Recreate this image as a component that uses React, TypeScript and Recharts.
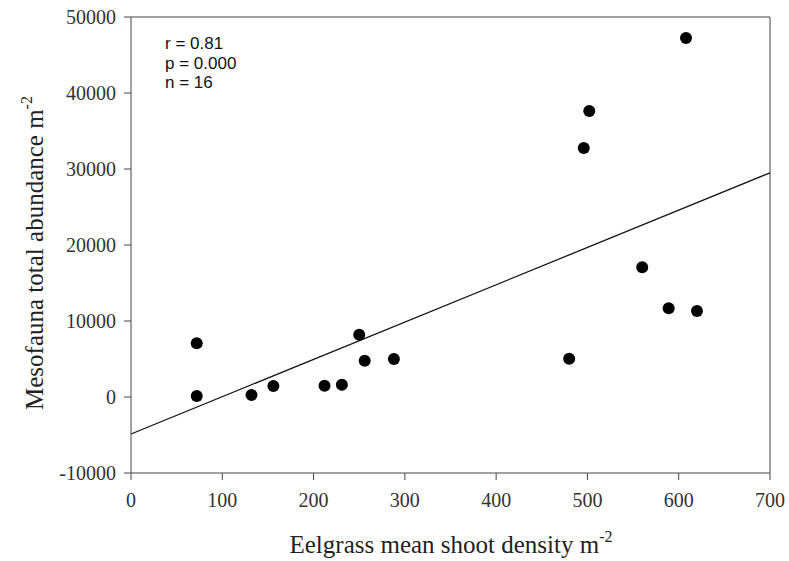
import React from 'react';
import { ScatterChart, Scatter, XAxis, YAxis, ReferenceLine, Customized } from 'recharts';

const shootDensity = [72, 72, 132, 156, 212, 231, 250, 256, 288, 480, 496, 502, 560, 589, 608, 620];
const abundance = [7070, 130, 260, 1450, 1490, 1620, 8200, 4780, 5000, 5040, 32760, 37630, 17060, 11670, 47240, 11320];
const xTicks = [0, 100, 200, 300, 400, 500, 600, 700];
const yTicks = [-10000, 0, 10000, 20000, 30000, 40000, 50000];
const fitStart = { x: 0, y: -4870 };
const fitEnd = { x: 700, y: 29500 };
const statsLines = ['r = 0.81', 'p = 0.000', 'n = 16'];

const points = shootDensity.map((x, i) => ({ x, y: abundance[i] }));

const serif = '"Liberation Serif", "Times New Roman", serif';
const sans = '"Liberation Sans", Arial, sans-serif';

const Dot = (props: any) => <circle cx={props.cx} cy={props.cy} r={6} fill="#000" />;

const renderXTick = (props: any) => {
  const { x, y, payload, index } = props;
  return (
    <g key={`xt-${index}`} transform={`translate(${x},${y})`}>
      <text x={0} y={0} dy={22} textAnchor="middle" fontFamily={serif} fontSize={20} fill="#333">
        {payload.value}
      </text>
    </g>
  );
};

const renderYTick = (props: any) => {
  const { x, y, payload, index } = props;
  return (
    <g key={`yt-${index}`} transform={`translate(${x},${y})`}>
      <text x={0} y={0} dy={6.5} textAnchor="end" fontFamily={serif} fontSize={20} fill="#333">
        {payload.value}
      </text>
    </g>
  );
};

const Titles = () => (
  <g>
    <text x={451} y={553} textAnchor="middle" fontFamily={serif} fontSize={25} fill="#222">
      Eelgrass mean shoot density m
      <tspan fontSize={16} dy={-11}>-2</tspan>
    </text>
    <text
      x={0}
      y={0}
      transform="translate(43,253) rotate(-90)"
      textAnchor="middle"
      fontFamily={serif}
      fontSize={25}
      fill="#222"
    >
      Mesofauna total abundance m
      <tspan fontSize={16} dy={-11}>-2</tspan>
    </text>
    {statsLines.map((s, i) => (
      <text key={s} x={165} y={49 + i * 19.5} fontFamily={sans} fontSize={17} fill="#111">
        {s}
      </text>
    ))}
  </g>
);

export default function App() {
  return (
    <div style={{ position: 'absolute', left: 0, top: 0, background: '#fff', fontFamily: serif }}>
      <ScatterChart width={789} height={561} margin={{ top: 17, right: 19, bottom: 28, left: 61 }}>
        <XAxis
          type="number"
          dataKey="x"
          domain={[0, 700]}
          ticks={xTicks}
          allowDataOverflow
          height={60}
          tickSize={7}
          tickMargin={5}
          stroke="#444"
          tick={renderXTick}
        />
        <YAxis
          type="number"
          dataKey="y"
          domain={[-10000, 50000]}
          ticks={yTicks}
          allowDataOverflow
          width={70}
          tickSize={7}
          tickMargin={8}
          stroke="#444"
          tick={renderYTick}
        />
        <ReferenceLine y={50000} stroke="#444" />
        <ReferenceLine x={700} stroke="#444" />
        <ReferenceLine segment={[fitStart, fitEnd]} stroke="#111" strokeWidth={1.3} />
        <Scatter data={points} shape={Dot} isAnimationActive={false} />
        <Customized component={Titles} />
      </ScatterChart>
    </div>
  );
}
